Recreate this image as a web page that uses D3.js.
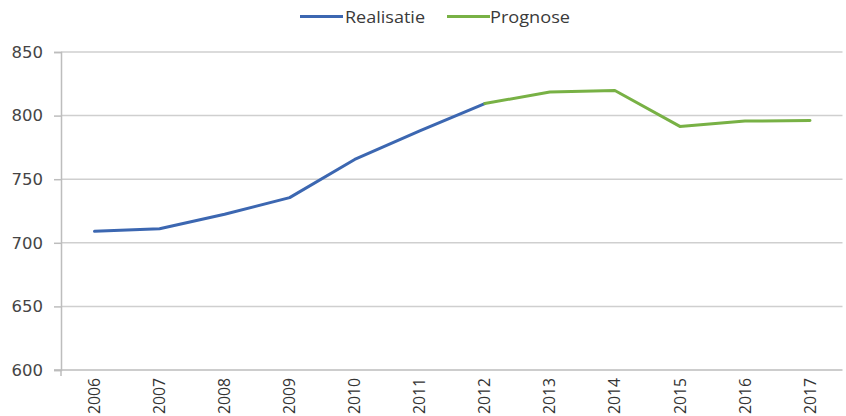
<!DOCTYPE html>
<html><head><meta charset="utf-8">
<script src="https://cdn.jsdelivr.net/npm/d3@7/dist/d3.min.js"></script>
<style>body{margin:0;background:#fff}svg{display:block}</style>
</head><body>
<svg id="c" width="846" height="416"></svg>
<script>
const years = ["2006","2007","2008","2009","2010","2011","2012","2013","2014","2015","2016","2017"];
const realisatie = [709, 711, 722.5, 735.5, 765.5, 788, 809.5, null, null, null, null, null];
const prognose = [null, null, null, null, null, null, 809.5, 818.5, 819.7, 791.5, 795.7, 796.2];
const yTicks = [600, 650, 700, 750, 800, 850];
const seriesNames = ["Realisatie", "Prognose"];
const colors = ["#3c67b1", "#78b145"];

const svg = d3.select("#c");
const x = d3.scaleBand().domain(years).range([62, 842.5]);
const y = d3.scaleLinear().domain([600, 850]).range([370, 52]);

// gridlines
svg.append("g").selectAll("line").data(yTicks.filter(d => d > 600)).join("line")
  .attr("x1", 61).attr("x2", 842.5)
  .attr("y1", d => y(d)).attr("y2", d => y(d))
  .attr("stroke", "#cfcfcf").attr("stroke-width", 1.5);

// y axis
const yAxis = svg.append("g").attr("transform", "translate(61,0)")
  .call(d3.axisLeft(y).tickValues(yTicks).tickSize(7).tickPadding(11));
yAxis.select(".domain").attr("stroke", "#bdbdbd").attr("stroke-width", 1.5);
yAxis.selectAll(".tick line").attr("stroke", "#bdbdbd").attr("stroke-width", 1.5);
yAxis.selectAll("text").attr("font-family", "DejaVu Sans").attr("font-size", 16.5).attr("fill", "#454545");

// x axis
const xAxis = svg.append("g").attr("transform", "translate(0,370)")
  .call(d3.axisBottom(x).tickSize(0).tickPadding(0));
xAxis.select(".domain").remove();
svg.append("line").attr("x1", 54).attr("x2", 842.5).attr("y1", 370).attr("y2", 370)
  .attr("stroke", "#bdbdbd").attr("stroke-width", 1.5);
svg.append("line").attr("x1", 61).attr("x2", 61).attr("y1", 370).attr("y2", 376)
  .attr("stroke", "#bdbdbd").attr("stroke-width", 1.5);
xAxis.selectAll("text")
  .attr("font-family", "Open Sans").attr("font-size", 16).attr("fill", "#333")
  .attr("text-anchor", "end").attr("dy", "0.35em")
  .attr("textLength", 36).attr("lengthAdjust", "spacingAndGlyphs")
  .attr("transform", "translate(0,8) rotate(-90)");

// lines
const line = d3.line().defined(d => d.v != null)
  .x(d => x(d.k) + x.bandwidth() / 2).y(d => y(d.v));
[realisatie, prognose].forEach((s, i) => {
  svg.append("path").datum(years.map((k, j) => ({k, v: s[j]})))
    .attr("d", line).attr("fill", "none").attr("stroke", colors[i])
    .attr("stroke-width", 3).attr("stroke-linejoin", "round").attr("stroke-linecap", "round");
});

// legend
const leg = [{x: 300, tx: 345, w: 80}, {x: 447, tx: 490, w: 80}];
seriesNames.forEach((n, i) => {
  svg.append("line").attr("x1", leg[i].x).attr("x2", leg[i].x + 43).attr("y1", 16.5).attr("y2", 16.5)
    .attr("stroke", colors[i]).attr("stroke-width", 3);
  svg.append("text").attr("x", leg[i].tx).attr("y", 17).attr("dy", "0.35em")
    .attr("font-family", "Open Sans").attr("font-size", 16).attr("fill", "#3a3a3a")
    .attr("textLength", leg[i].w).attr("lengthAdjust", "spacingAndGlyphs").text(n);
});
</script>
</body></html>
